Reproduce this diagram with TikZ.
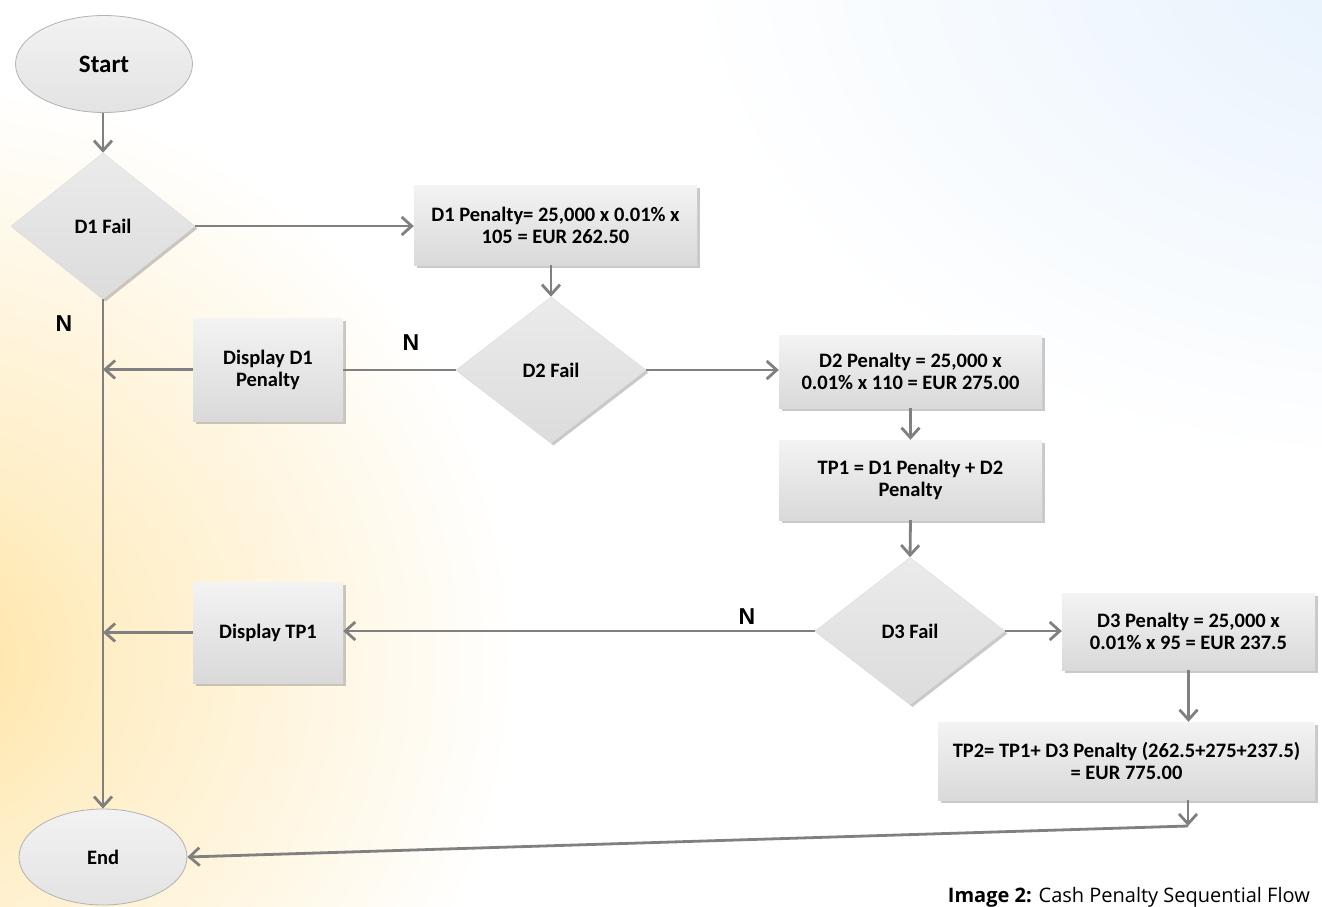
\documentclass[tikz,border=0pt]{standalone}
\usepackage{fontspec}
\setmainfont{Carlito}
\newfontfamily\labelfont{Liberation Sans}
\newfontfamily\capfont{Open Sans}
\usetikzlibrary{shapes.geometric,arrows.meta,shadows}

\definecolor{linegray}{HTML}{808080}
\definecolor{warmglow}{HTML}{FFE3A0}
\definecolor{coolglow}{HTML}{E6F2FC}
\definecolor{boxtop}{HTML}{F3F3F3}
\definecolor{boxbot}{HTML}{D9D9D9}
\definecolor{diatop}{HTML}{EBEBEB}
\definecolor{diabot}{HTML}{DCDCDC}

% glows that fade to white exactly at the edge of the shaded shape
\pgfdeclareradialshading{warmfade}{\pgfpoint{0bp}{0bp}}{color(0bp)=(warmglow); color(8bp)=(warmglow!60!white); color(25bp)=(white); color(50bp)=(white)}
\pgfdeclareradialshading{coolfade}{\pgfpoint{0bp}{0bp}}{color(0bp)=(coolglow); color(25bp)=(white); color(50bp)=(white)}

\tikzset{
  nodetext/.style={font=\bfseries\fontsize{20.5}{22}\selectfont, align=center, text=black},
  softshadow/.style={drop shadow={shadow xshift=2.5pt, shadow yshift=-2.5pt, opacity=0.35, fill=black!60}},
  procbox/.style={nodetext, rectangle, inner sep=0pt, top color=boxtop, bottom color=boxbot, softshadow},
  decision/.style={nodetext, diamond, inner sep=0pt, aspect=1.3, top color=diatop, bottom color=diabot,
    draw=black!12, line width=0.6pt, softshadow},
  terminal/.style={nodetext, ellipse, inner sep=0pt, top color=white!95!black, bottom color=black!11,
    draw=black!30, line width=0.8pt},
  flow/.style={draw=linegray, line width=2.8pt, -{Straight Barb[length=10pt,width=18pt]}},
  plainflow/.style={draw=linegray, line width=2.8pt},
  nlabel/.style={font=\labelfont\bfseries\fontsize{23}{26}\selectfont, text=black}
}

\begin{document}
\begin{tikzpicture}[x=1pt,y=-1pt]
  % page and background glows
  \useasboundingbox (0,0) rectangle (1322,907);
  \begin{scope}
    \clip (0,0) rectangle (1322,907);
    \fill[white] (0,0) rectangle (1322,907);
    \shade[shading=warmfade] (-80,660) ellipse [x radius=600pt, y radius=580pt];
    \shade[shading=coolfade] (1400,-50) ellipse [x radius=720pt, y radius=520pt];
  \end{scope}

  % flowchart nodes
  \node[terminal, minimum width=177pt, minimum height=97pt, font=\bfseries\fontsize{25}{28}\selectfont] (start) at (104,64) {Start};
  \node[decision, minimum width=184pt, minimum height=146pt] (d1) at (103,226) {D1 Fail};
  \node[procbox, minimum width=283pt, minimum height=80pt] (pen1) at (555.5,225) {D1 Penalty= 25,000 x 0.01\% x\\105 = EUR 262.50};
  \node[decision, minimum width=190pt, minimum height=146pt] (d2) at (551,370) {D2 Fail};
  \node[procbox, minimum width=150pt, minimum height=103pt] (disp1) at (268,369.5) {Display D1\\Penalty};
  \node[procbox, minimum width=263pt, minimum height=73pt] (pen2) at (910.5,371.5) {D2 Penalty = 25,000 x\\0.01\% x 110 = EUR 275.00};
  \node[procbox, minimum width=263pt, minimum height=80pt] (tp1) at (910.5,480) {TP1 = D1 Penalty + D2\\Penalty};
  \node[decision, minimum width=190pt, minimum height=147pt] (d3) at (910,631) {D3 Fail};
  \node[procbox, minimum width=150pt, minimum height=101pt] (disp2) at (268,632.5) {Display TP1};
  \node[procbox, minimum width=253pt, minimum height=77pt] (pen3) at (1188.5,631.5) {D3 Penalty = 25,000 x\\0.01\% x 95 = EUR 237.5};
  \node[procbox, minimum width=377pt, minimum height=78pt] (tp2) at (1126.5,761) {TP2= TP1+ D3 Penalty (262.5+275+237.5)\\= EUR 775.00};
  \node[terminal, minimum width=168pt, minimum height=96pt] (end) at (103,857) {End};

  % connectors
  \draw[flow] (start.south -| d1.north) -- (d1.north);
  \draw[flow] (d1.east) -- (d1.east -| pen1.west);
  \draw[flow] (d2.north |- pen1.south) -- (d2.north);
  \draw[plainflow] (d2.west) -- (d2.west -| disp1.east);
  \draw[flow] (disp1.west) -- (disp1.west -| d1.south);
  \draw[flow] (d1.south) -- (end.north);
  \draw[flow] (d2.east) -- (d2.east -| pen2.west);
  \draw[flow] (pen2.south) -- (tp1.north);
  \draw[flow] (tp1.south) -- (d3.north);
  \draw[flow] (d3.west) -- (d3.west -| disp2.east);
  \draw[flow] (disp2.west) -- (disp2.west -| d1.south);
  \draw[flow] (d3.east) -- (d3.east -| pen3.west);
  \draw[flow] (pen3.south) -- (pen3.south |- tp2.north);
  \coordinate (bend) at (1188,826);
  \draw[flow] (tp2.south -| bend) -- (bend);
  \draw[flow] (bend) -- (end.east);

  % branch labels
  \node[nlabel] (n1) at (64,324) {N};
  \node[nlabel] (n2) at (411,343) {N};
  \node[nlabel] (n3) at (747,617) {N};

  % caption
  \node[anchor=base east, inner sep=0pt, font=\capfont\fontsize{20}{24}\selectfont] (caption) at (1310,902)
    {{\bfseries Image 2:} Cash Penalty Sequential Flow};
\end{tikzpicture}
\end{document}
